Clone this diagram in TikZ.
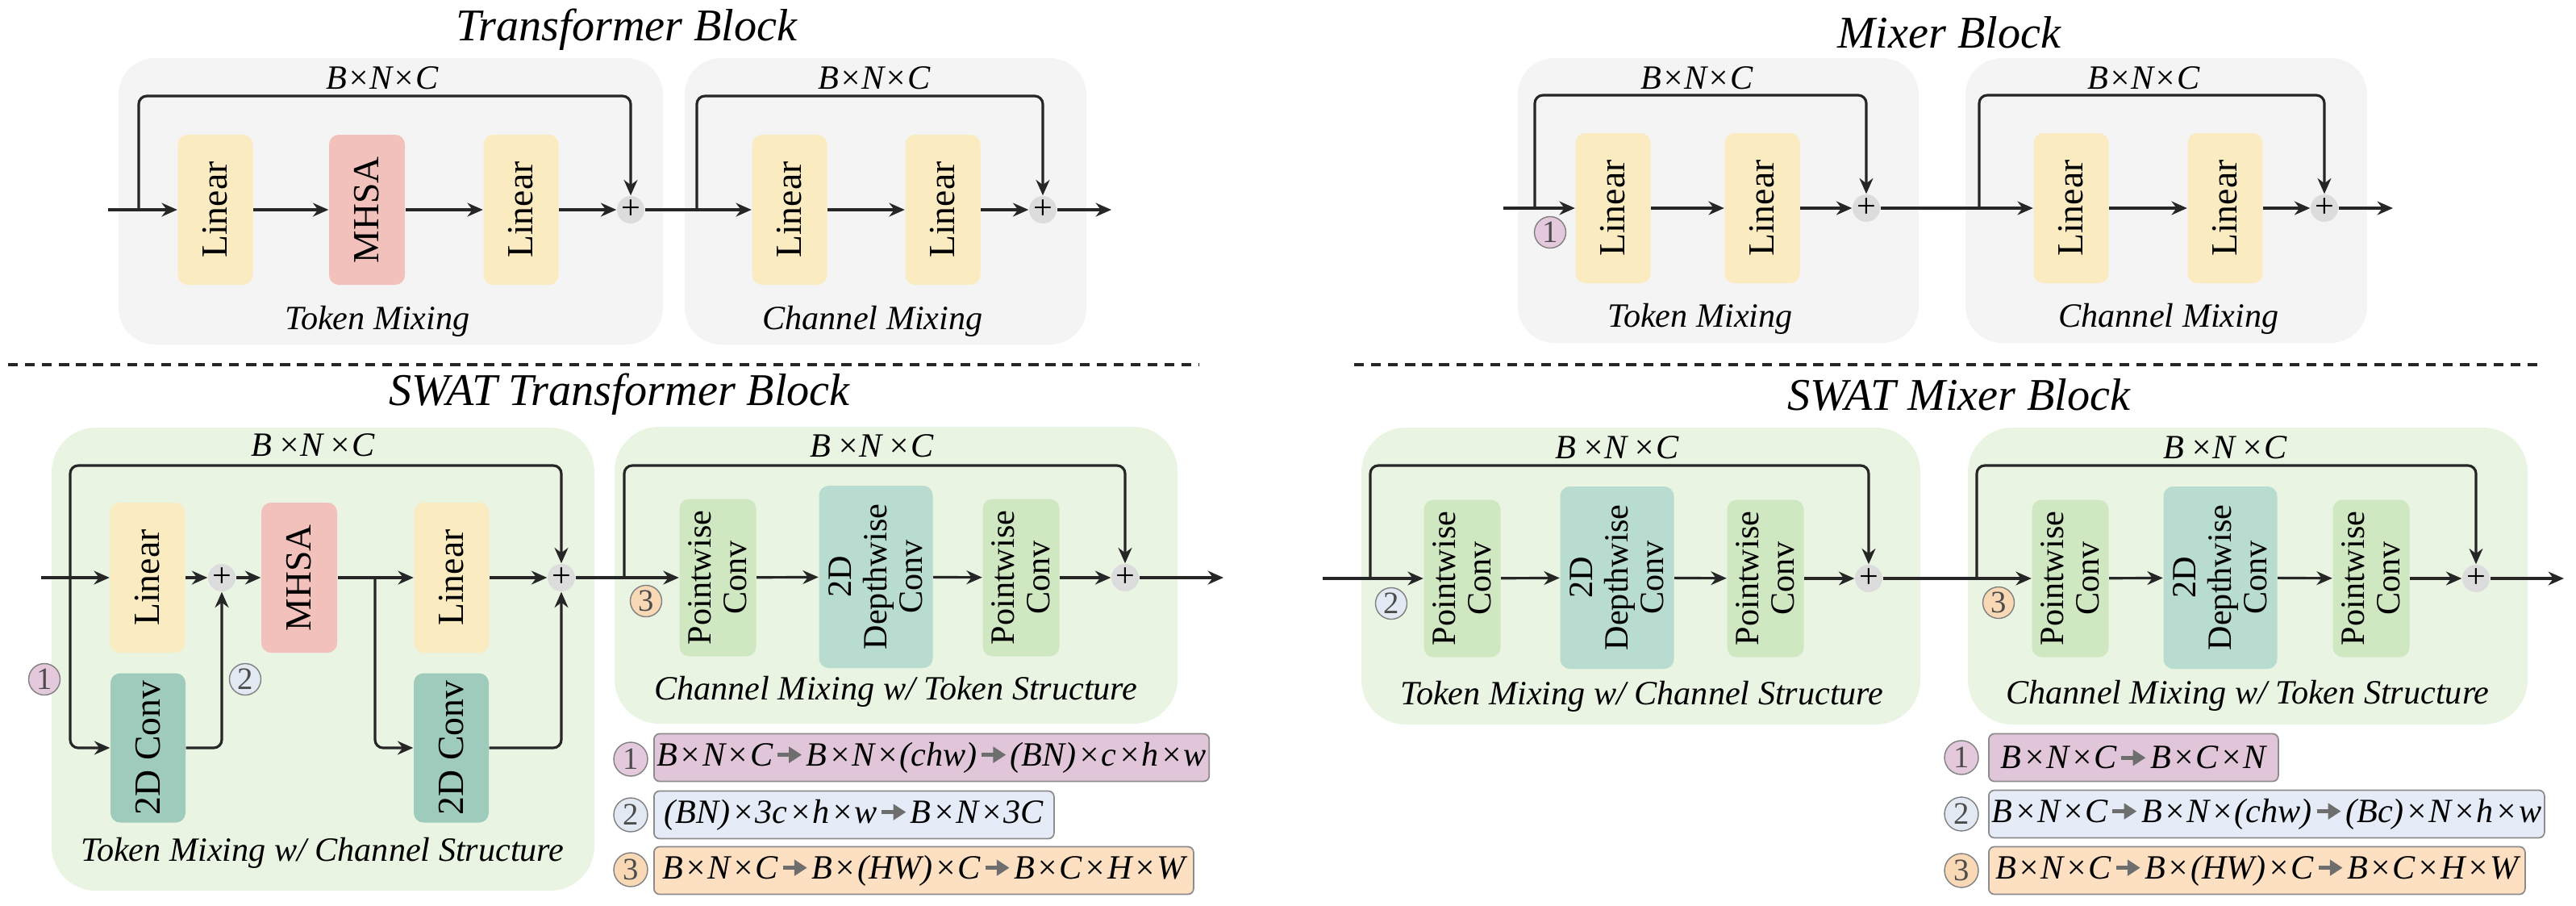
\documentclass[tikz,border=0pt]{standalone}
\usepackage{fontspec}
\setmainfont{Liberation Serif}
\usetikzlibrary{arrows.meta}

\definecolor{fondogris}{HTML}{F4F4F4}
\definecolor{fondoverde}{HTML}{E9F4E2}
\definecolor{amarillo}{HTML}{FAEBC1}
\definecolor{rosa}{HTML}{F2C1BB}
\definecolor{verdepw}{HTML}{CFE8C1}
\definecolor{verdedw}{HTML}{B9DCD0}
\definecolor{verdeconv}{HTML}{9ECBBB}
\definecolor{sumagris}{HTML}{DCDCDC}
\definecolor{trazo}{HTML}{262626}
\definecolor{flechagris}{HTML}{6E6E6E}
\definecolor{ley1}{HTML}{E1C6DA}
\definecolor{ley2}{HTML}{E5ECF7}
\definecolor{ley3}{HTML}{FDDFC2}
\definecolor{num1}{HTML}{E4C9DD}
\definecolor{num2}{HTML}{E2E9F3}
\definecolor{num3}{HTML}{F9D8B5}

% flecha gris de las leyendas
\newcommand{\ga}{\kern0.08em\tikz[baseline=-0.7ex]\draw[flechagris, line width=1.3pt,
  -{Triangle[length=4.5pt,width=5.5pt]}] (0,0) -- (0.3,0);\kern0.08em}
\newcommand{\x}{\kern0.04em×\kern0.02em}

\tikzset{
  flecha/.style={-{Stealth[length=5.5pt,width=4.8pt]}, line width=0.9pt, draw=trazo},
  bloque/.style={rounded corners=0.12cm, rotate=90, inner sep=1pt, align=center,
    font=\fontsize{13}{14}\selectfont},
  lin/.style={bloque, fill=amarillo, minimum width=1.86cm, minimum height=0.93cm},
  mhsa/.style={bloque, fill=rosa, minimum width=1.86cm, minimum height=0.94cm},
  conv/.style={bloque, fill=verdeconv, minimum width=1.85cm, minimum height=0.93cm},
  pw/.style={bloque, fill=verdepw, minimum width=1.95cm, minimum height=0.95cm,
    font=\fontsize{12}{12.5}\selectfont},
  dw/.style={bloque, fill=verdedw, minimum width=2.26cm, minimum height=1.41cm,
    font=\fontsize{12}{12.5}\selectfont},
  suma/.style={circle, fill=sumagris, minimum size=0.34cm, inner sep=0pt,
    font=\fontsize{12}{12}\selectfont},
  numero/.style={circle, draw=gray, line width=0.4pt, minimum size=0.39cm, inner sep=0pt,
    font=\fontsize{11}{11}\selectfont, text=black!70},
  leyenda/.style={draw=gray!90, line width=0.5pt, rounded corners=0.07cm, minimum height=0.59cm,
    anchor=west, inner sep=1pt, font=\fontsize{12}{12}\selectfont\itshape},
  titulo/.style={font=\fontsize{16}{18}\selectfont\itshape},
  etiqueta/.style={font=\fontsize{12}{13}\selectfont\itshape},
}

\begin{document}
\begin{tikzpicture}[x=1cm,y=-1cm]
    \useasboundingbox (0,0) rectangle (31.94,11.22);
    % Fondos
    \fill[fondogris, rounded corners=0.45cm] (1.47,0.72) rectangle (8.22,4.27);
    \fill[fondogris, rounded corners=0.45cm] (8.49,0.72) rectangle (13.47,4.27);
    \fill[fondogris, rounded corners=0.45cm] (18.82,0.72) rectangle (23.79,4.25);
    \fill[fondogris, rounded corners=0.45cm] (24.37,0.72) rectangle (29.35,4.25);
    \fill[fondoverde, rounded corners=0.55cm] (0.64,5.30) rectangle (7.37,11.04);
    \fill[fondoverde, rounded corners=0.55cm] (7.62,5.29) rectangle (14.60,8.97);
    \fill[fondoverde, rounded corners=0.55cm] (16.88,5.30) rectangle (23.81,8.98);
    \fill[fondoverde, rounded corners=0.55cm] (24.40,5.30) rectangle (31.34,8.98);
    % Separadores
    \draw[line width=0.9pt, trazo, dash pattern=on 3.5pt off 2.5pt] (0.10,4.52) -- (14.87,4.52);
    \draw[line width=0.9pt, trazo, dash pattern=on 3.5pt off 2.5pt] (16.79,4.52) -- (31.49,4.52);
    % Titulos
    \node[titulo] (t1) at (7.77,0.37) {Transformer Block};
    \node[titulo] (t2) at (24.17,0.40) {Mixer Block};
    \node[titulo] (t3) at (7.68,4.89) {SWAT Transformer Block};
    \node[titulo] (t4) at (24.29,4.89) {SWAT Mixer Block};

    % Transformer Block
    \coordinate (e1) at (1.34,2.60);
    \coordinate (s1) at (1.72,2.60);
    \coordinate (a1) at (4.50,1.19);
    \coordinate (s2) at (8.64,2.60);
    \coordinate (a2) at (10.80,1.19);
    \coordinate (o1) at (13.78,2.60);
    \node[lin] (l1) at (2.67,2.60) {Linear};
    \node[mhsa] (m1) at (4.55,2.60) {MHSA};
    \node[lin] (l2) at (6.46,2.60) {Linear};
    \node[suma] (p1) at (7.82,2.60) {+};
    \node[lin] (l3) at (9.79,2.60) {Linear};
    \node[lin] (l4) at (11.69,2.60) {Linear};
    \node[suma] (p2) at (12.93,2.60) {+};
    \draw[flecha] (e1) -- (l1);
    \draw[flecha] (l1) -- (m1);
    \draw[flecha] (m1) -- (l2);
    \draw[flecha] (l2) -- (p1);
    \draw[flecha, rounded corners=0.1cm] (s1) |- (a1) -| (p1);
    \draw[flecha] (p1) -- (l3);
    \draw[flecha] (l3) -- (l4);
    \draw[flecha] (l4) -- (p2);
    \draw[flecha, rounded corners=0.1cm] (s2) |- (a2) -| (p2);
    \draw[flecha] (p2) -- (o1);
    \node[etiqueta] (d1) at (4.74,0.97) {B×N×C};
    \node[etiqueta] (d2) at (10.84,0.97) {B×N×C};
    \node[etiqueta] (k1) at (4.68,3.98) {Token Mixing};
    \node[etiqueta] (k2) at (10.82,3.98) {Channel Mixing};

    % Mixer Block
    \coordinate (e2) at (18.64,2.58);
    \coordinate (s5) at (19.03,2.58);
    \coordinate (a5) at (21.00,1.18);
    \coordinate (s6) at (24.54,2.58);
    \coordinate (a6) at (26.60,1.18);
    \coordinate (o3) at (29.67,2.58);
    \node[lin] (l8) at (20.00,2.58) {Linear};
    \node[lin] (l9) at (21.85,2.58) {Linear};
    \node[suma] (p6) at (23.14,2.58) {+};
    \node[lin] (l10) at (25.68,2.58) {Linear};
    \node[lin] (l11) at (27.59,2.58) {Linear};
    \node[suma] (p7) at (28.82,2.58) {+};
    \draw[flecha] (e2) -- (l8);
    \draw[flecha] (l8) -- (l9);
    \draw[flecha] (l9) -- (p6);
    \draw[flecha, rounded corners=0.1cm] (s5) |- (a5) -| (p6);
    \draw[flecha] (p6) -- (l10);
    \draw[flecha] (l10) -- (l11);
    \draw[flecha] (l11) -- (p7);
    \draw[flecha, rounded corners=0.1cm] (s6) |- (a6) -| (p7);
    \draw[flecha] (p7) -- (o3);
    \node[numero, fill=num1] (n5) at (19.22,2.88) {1};
    \node[etiqueta] (d5) at (21.04,0.97) {B×N×C};
    \node[etiqueta] (d6) at (26.58,0.97) {B×N×C};
    \node[etiqueta] (k5) at (21.08,3.95) {Token Mixing};
    \node[etiqueta] (k6) at (26.89,3.95) {Channel Mixing};

    % SWAT Transformer Block
    \coordinate (e3) at (0.51,7.16);
    \coordinate (s3) at (0.87,7.16);
    \coordinate (a3) at (3.90,5.77);
    \coordinate (b3) at (4.65,7.16);
    \coordinate (s4) at (7.74,7.16);
    \coordinate (a4) at (10.80,5.77);
    \coordinate (o2) at (15.17,7.16);
    \node[lin] (l6) at (1.83,7.16) {Linear};
    \node[suma] (p3) at (2.75,7.16) {+};
    \node[mhsa] (m2) at (3.71,7.16) {MHSA};
    \node[lin] (l7) at (5.60,7.16) {Linear};
    \node[suma] (p4) at (6.96,7.16) {+};
    \node[conv] (c1) at (1.835,9.27) {2D Conv};
    \node[conv] (c2) at (5.595,9.27) {2D Conv};
    \node[pw] (w1) at (8.90,7.16) {Pointwise\\Conv};
    \node[dw] (w2) at (10.86,7.15) {2D\\Depthwise\\Conv};
    \node[pw] (w3) at (12.66,7.16) {Pointwise\\Conv};
    \node[suma] (p5) at (13.95,7.16) {+};
    \draw[flecha] (e3) -- (l6);
    \draw[flecha, rounded corners=0.1cm] (s3) |- (a3) -| (p4);
    \draw[flecha, rounded corners=0.1cm] (s3) |- (c1);
    \draw[flecha] (l6) -- (p3);
    \draw[flecha, rounded corners=0.1cm] (c1) -| (p3);
    \draw[flecha] (p3) -- (m2);
    \draw[flecha] (m2) -- (l7);
    \draw[flecha, rounded corners=0.1cm] (b3) |- (c2);
    \draw[flecha] (l7) -- (p4);
    \draw[flecha, rounded corners=0.1cm] (c2) -| (p4);
    \draw[flecha] (p4) -- (w1);
    \draw[flecha, rounded corners=0.1cm] (s4) |- (a4) -| (p5);
    \draw[flecha] (w1) -- (w2);
    \draw[flecha] (w2) -- (w3);
    \draw[flecha] (w3) -- (p5);
    \draw[flecha] (p5) -- (o2);
    \node[numero, fill=num1] (n1) at (0.55,8.42) {1};
    \node[numero, fill=num2] (n2) at (3.04,8.42) {2};
    \node[numero, fill=num3] (n3) at (8.01,7.45) {3};
    \node[etiqueta] (d3) at (3.88,5.52) {B\,×N\,×C};
    \node[etiqueta] (d4) at (10.81,5.53) {B\,×N\,×C};
    \node[etiqueta] (k3) at (4.00,10.57) {Token Mixing w/ Channel Structure};
    \node[etiqueta] (k4) at (11.11,8.57) {Channel Mixing w/ Token Structure};

    % SWAT Mixer Block
    \coordinate (e4) at (16.40,7.17);
    \coordinate (s7) at (16.99,7.17);
    \coordinate (a7) at (20.00,5.77);
    \coordinate (s8) at (24.51,7.17);
    \coordinate (a8) at (27.60,5.77);
    \coordinate (o4) at (31.79,7.17);
    \node[pw] (w4) at (18.13,7.17) {Pointwise\\Conv};
    \node[dw] (w5) at (20.05,7.16) {2D\\Depthwise\\Conv};
    \node[pw] (w6) at (21.89,7.17) {Pointwise\\Conv};
    \node[suma] (p8) at (23.17,7.17) {+};
    \node[pw] (w7) at (25.67,7.17) {Pointwise\\Conv};
    \node[dw] (w8) at (27.53,7.16) {2D\\Depthwise\\Conv};
    \node[pw] (w9) at (29.40,7.17) {Pointwise\\Conv};
    \node[suma] (p9) at (30.70,7.17) {+};
    \draw[flecha] (e4) -- (w4);
    \draw[flecha, rounded corners=0.1cm] (s7) |- (a7) -| (p8);
    \draw[flecha] (w4) -- (w5);
    \draw[flecha] (w5) -- (w6);
    \draw[flecha] (w6) -- (p8);
    \draw[flecha] (p8) -- (w7);
    \draw[flecha, rounded corners=0.1cm] (s8) |- (a8) -| (p9);
    \draw[flecha] (w7) -- (w8);
    \draw[flecha] (w8) -- (w9);
    \draw[flecha] (w9) -- (p9);
    \draw[flecha] (p9) -- (o4);
    \node[numero, fill=num2] (n6) at (17.25,7.48) {2};
    \node[numero, fill=num3] (n7) at (24.78,7.47) {3};
    \node[etiqueta] (d7) at (20.05,5.55) {B\,×N\,×C};
    \node[etiqueta] (d8) at (27.59,5.55) {B\,×N\,×C};
    \node[etiqueta] (k7) at (20.36,8.63) {Token Mixing w/ Channel Structure};
    \node[etiqueta] (k8) at (27.87,8.62) {Channel Mixing w/ Token Structure};

    % Leyendas
    \node[numero, fill=num1, minimum size=0.42cm] (g1) at (7.82,9.41) {1};
    \node[numero, fill=num2, minimum size=0.42cm] (g2) at (7.82,10.10) {2};
    \node[numero, fill=num3, minimum size=0.42cm] (g3) at (7.82,10.78) {3};
    \node[leyenda, fill=ley1, minimum width=6.85cm] (r1) at (8.10,9.39)
      {B\x N\x C\ga B\x N\x(chw)\ga(BN)\x c\x h\x w};
    \node[leyenda, fill=ley2, minimum width=4.96cm] (r2) at (8.10,10.10)
      {(BN)\x 3c\x h\x w\ga B\x N\x 3C};
    \node[leyenda, fill=ley3, minimum width=6.69cm] (r3) at (8.10,10.79)
      {B\x N\x C\ga B\x(HW)\x C\ga B\x C\x H\x W};
    \node[numero, fill=num1, minimum size=0.42cm] (g4) at (24.32,9.39) {1};
    \node[numero, fill=num2, minimum size=0.42cm] (g5) at (24.32,10.09) {2};
    \node[numero, fill=num3, minimum size=0.42cm] (g6) at (24.32,10.79) {3};
    \node[leyenda, fill=ley1, minimum width=3.59cm] (r4) at (24.65,9.39)
      {B\x N\x C\ga B\x C\x N};
    \node[leyenda, fill=ley2, minimum width=6.89cm] (r5) at (24.65,10.09)
      {B\x N\x C\ga B\x N\x(chw)\ga(Bc)\x N\x h\x w};
    \node[leyenda, fill=ley3, minimum width=6.65cm] (r6) at (24.65,10.79)
      {B\x N\x C\ga B\x(HW)\x C\ga B\x C\x H\x W};
\end{tikzpicture}
\end{document}
